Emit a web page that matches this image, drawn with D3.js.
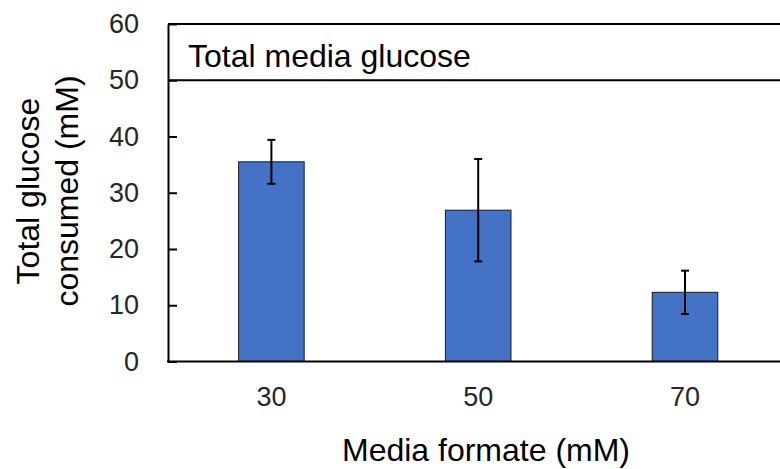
<!DOCTYPE html>
<html>
<head>
<meta charset="utf-8">
<script src="https://cdn.jsdelivr.net/npm/d3@7"></script>
<style>
  html, body { margin: 0; padding: 0; background: #fff; }
  svg { display: block; font-family: "Liberation Sans", Arial, sans-serif; }
</style>
</head>
<body>
<svg id="chart" width="780" height="469"></svg>
<script>
// Glucose consumed at each media formate concentration
const categories = ["30", "50", "70"];
const glucoseConsumed = [35.5, 26.9, 12.3];
const errors = [3.9, 9.1, 3.85];
const yTicks = [0, 10, 20, 30, 40, 50, 60];
const totalMediaGlucose = 50;

const svg = d3.select("#chart");
const plotLeft = 168, plotRight = 788.4, plotTop = 24, plotBottom = 361.5;
const tickFont = 27, titleFont = 32;

const x = d3.scaleBand().domain(categories).range([plotLeft, plotRight])
  .paddingInner(0.683).paddingOuter(0.3415);
const y = d3.scaleLinear().domain([0, 60]).range([plotBottom, plotTop]);

// Y axis
const yAxis = svg.append("g").attr("transform", `translate(${plotLeft},0)`)
  .call(d3.axisLeft(y).tickValues(yTicks).tickSizeInner(-9).tickSizeOuter(0).tickPadding(29));
yAxis.select(".domain").attr("stroke", "#000").attr("stroke-width", 2);
yAxis.selectAll(".tick line").attr("stroke", "#000").attr("stroke-width", 2);
yAxis.selectAll(".tick text").attr("font-size", tickFont).attr("fill", "#262626")
  .attr("font-family", "Liberation Sans, Arial, sans-serif");

// Top frame line at 60
svg.append("line").attr("x1", plotLeft).attr("x2", 780)
  .attr("y1", y(60)).attr("y2", y(60)).attr("stroke", "#000").attr("stroke-width", 2);

// Total media glucose reference line
svg.append("line").attr("x1", plotLeft).attr("x2", 780)
  .attr("y1", y(totalMediaGlucose)).attr("y2", y(totalMediaGlucose))
  .attr("stroke", "#000").attr("stroke-width", 2);
svg.append("text").attr("x", 188).attr("y", 66.5)
  .attr("font-size", titleFont).attr("fill", "#000").text("Total media glucose");

// Bars
svg.selectAll("rect.bar").data(glucoseConsumed).enter().append("rect")
  .attr("class", "bar")
  .attr("x", (d, i) => x(categories[i]))
  .attr("width", x.bandwidth())
  .attr("y", d => y(d))
  .attr("height", d => y(0) - y(d))
  .attr("fill", "#4472C4").attr("stroke", "#1a1a1a").attr("stroke-width", 1);

// Error bars
const eb = svg.selectAll("g.err").data(glucoseConsumed).enter().append("g")
  .attr("transform", (d, i) => `translate(${x(categories[i]) + x.bandwidth() / 2},0)`);
eb.append("line").attr("x1", 0).attr("x2", 0)
  .attr("y1", (d, i) => y(d + errors[i])).attr("y2", (d, i) => y(d - errors[i]))
  .attr("stroke", "#000").attr("stroke-width", 2);
eb.append("line").attr("x1", -4).attr("x2", 4)
  .attr("y1", (d, i) => y(d + errors[i])).attr("y2", (d, i) => y(d + errors[i]))
  .attr("stroke", "#000").attr("stroke-width", 2);
eb.append("line").attr("x1", -4).attr("x2", 4)
  .attr("y1", (d, i) => y(d - errors[i])).attr("y2", (d, i) => y(d - errors[i]))
  .attr("stroke", "#000").attr("stroke-width", 2);

// X axis
const xAxis = svg.append("g").attr("transform", `translate(0,${plotBottom})`)
  .call(d3.axisBottom(x).tickSize(0).tickPadding(25));
xAxis.select(".domain").remove();
svg.append("line").attr("x1", plotLeft - 1).attr("x2", 780)
  .attr("y1", plotBottom).attr("y2", plotBottom).attr("stroke", "#000").attr("stroke-width", 2);
xAxis.selectAll(".tick text").attr("font-size", tickFont).attr("fill", "#262626")
  .attr("font-family", "Liberation Sans, Arial, sans-serif");

// Axis titles
svg.append("text").attr("x", 486).attr("y", 460.5).attr("text-anchor", "middle")
  .attr("font-size", titleFont).attr("fill", "#000").text("Media formate (mM)");
const yt = svg.append("text").attr("transform", "translate(0,191) rotate(-90)")
  .attr("text-anchor", "middle").attr("font-size", titleFont).attr("fill", "#000");
yt.append("tspan").attr("x", 0).attr("y", 39).text("Total glucose");
yt.append("tspan").attr("x", 0).attr("y", 78).text("consumed (mM)");
</script>
</body>
</html>
